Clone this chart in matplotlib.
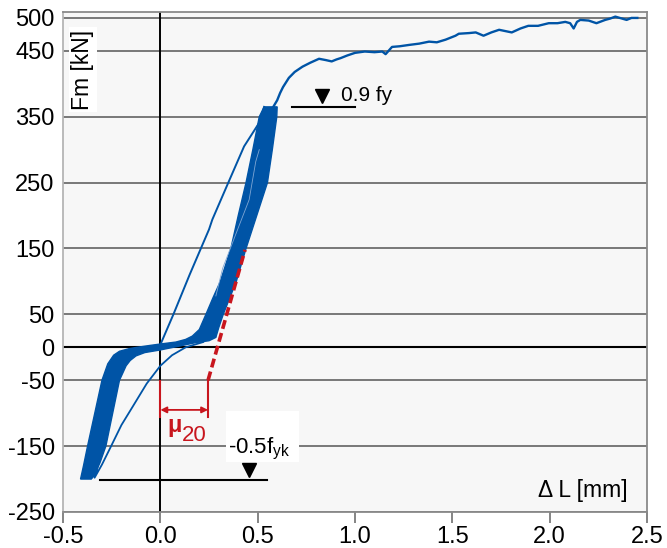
import matplotlib.pyplot as plt
from matplotlib.patches import Rectangle

plt.rcParams['font.family'] = ['Liberation Sans', 'DejaVu Sans']
plt.rcParams['axes.unicode_minus'] = False
plt.rcParams['mathtext.fontset'] = 'custom'
plt.rcParams['mathtext.rm'] = 'Liberation Sans'
plt.rcParams['mathtext.it'] = 'Liberation Sans:italic'
plt.rcParams['mathtext.bf'] = 'Liberation Sans:bold'

# Tick values
x_ticks = [-0.5, 0.0, 0.5, 1.0, 1.5, 2.0, 2.5]
x_labels = ['-0.5', '0.0', '0.5', '1.0', '1.5', '2.0', '2.5']
y_ticks = [-250, -150, -50, 0, 50, 150, 250, 350, 450, 500]
y_labels = ['-250', '-150', '-50', '0', '50', '150', '250', '350', '450', '500']

# First loading (thin line), dL [mm] / Fm [kN]
load_x = [0.0, 0.067, 0.15, 0.25, 0.267, 0.349, 0.43, 0.508, 0.533]
load_y = [4, 50, 110, 179, 194, 250, 305, 341, 365]

# First reversal down to -200 kN and back
unload_x = [0.22, 0.13, 0.06, 0.0, -0.07, -0.14, -0.20, -0.253, -0.30, -0.338, -0.325, -0.30, -0.27, -0.24]
unload_y = [8, 0, -12, -28, -55, -89, -118, -150, -178, -198, -185, -150, -110, -75]

# Cyclic band, upper-left edge (bottom -> top)
band_up_x = [-0.41, -0.395, -0.374, -0.337, -0.30, -0.27, -0.24, -0.21, -0.16, -0.12, -0.05, 0.0,
             0.08, 0.13, 0.164, 0.2, 0.234, 0.27, 0.308, 0.362, 0.40, 0.44, 0.475, 0.508, 0.533]
band_up_y = [-200, -180, -150, -100, -50, -25, -12, -6, -2, 0, 3, 5,
             8, 12, 17, 27, 50, 75, 100, 150, 200, 250, 300, 350, 365]

# Cyclic band, lower-right edge (top -> bottom)
band_lo_x = [0.60, 0.598, 0.575, 0.55, 0.495, 0.44, 0.39, 0.323, 0.30, 0.285, 0.25, 0.18, 0.10, 0.0,
             -0.08, -0.125, -0.155, -0.176, -0.21, -0.245, -0.28, -0.31, -0.34, -0.355]
band_lo_y = [365, 350, 300, 250, 200, 150, 100, 50, 30, 15, 10, 7, 2, -4,
             -8, -13, -20, -28, -50, -100, -150, -175, -195, -200]

# Light gap line inside the band
gap_x = [0.285, 0.32, 0.397, 0.456, 0.49, 0.508]
gap_y = [78, 120, 179, 224, 282, 300]

# Monotonic loading after the cycles
mono_x = [0.58, 0.60, 0.615, 0.63, 0.66, 0.69, 0.73, 0.77, 0.815, 0.85, 0.88, 0.905, 0.926, 0.96, 1.0,
          1.05, 1.10, 1.14, 1.157, 1.175, 1.19, 1.23, 1.277, 1.33, 1.38, 1.42, 1.465, 1.516, 1.533,
          1.585, 1.62, 1.66, 1.70, 1.74, 1.805, 1.85, 1.89, 1.94, 1.995, 2.04, 2.08, 2.105, 2.123,
          2.14, 2.157, 2.20, 2.24, 2.285, 2.31, 2.337, 2.36, 2.395, 2.42, 2.45]
mono_y = [365, 375, 386, 395, 409, 418, 426, 432, 438, 436, 434, 437, 439, 443, 447,
          449, 448, 449, 445, 451, 456, 457, 459, 461, 464, 463, 467, 473, 476,
          477, 478, 473, 478, 482, 478, 484, 488, 488, 492, 492, 494, 492, 484,
          494, 497, 496, 492, 497, 499, 502, 500, 497, 500, 500]

# Slip measure mu20 (red dashed tangent)
tangent_x = [0.245, 0.435]
tangent_y = [-50, 148]
mu_x = [0.0, 0.245]
mu_y = [-51, -106]
mu_arrow_y = -95

# Reference levels
fy_line_x = [0.677, 1.0]
fy_level = 365
fy_marker = (0.83, 381)
fyk_line_x = [-0.308, 0.547]
fyk_level = -201
fyk_marker = (0.456, -187)

blue = '#0054a6'
red = '#c8161e'

fig = plt.figure(figsize=(6.67, 5.48), dpi=100)
ax = fig.add_axes([0.0945, 0.0657, 0.8756, 0.9124])
ax.set_facecolor('#f7f7f7')

# grid
for t in y_ticks:
    if t == 0:
        ax.axhline(t, color='black', lw=1.5, zorder=1)
    else:
        ax.axhline(t, color='#6e6e6e', lw=1.3, zorder=1)
ax.axvline(0, color='black', lw=1.4, zorder=1)

# hysteresis band
poly_x = band_up_x + band_lo_x
poly_y = band_up_y + band_lo_y
ax.fill(poly_x, poly_y, color=blue, lw=1.0, ec=blue, zorder=3)
ax.plot(gap_x, gap_y, color='#7fa6d4', lw=0.6, zorder=4)
ax.plot(load_x, load_y, color=blue, lw=1.4, zorder=3)
ax.plot(unload_x, unload_y, color=blue, lw=1.3, zorder=3)
ax.plot(mono_x, mono_y, color=blue, lw=1.7, zorder=3)

# mu20 annotation
ax.plot(tangent_x, tangent_y, color=red, lw=2.6, dashes=(2.5, 1.2), zorder=5)
for xv in mu_x:
    ax.plot([xv, xv], mu_y, color=red, lw=1.5, zorder=5)
ax.annotate('', xy=(mu_x[0], mu_arrow_y), xytext=(mu_x[1], mu_arrow_y),
            arrowprops=dict(arrowstyle='<|-|>', color=red, lw=1.3, mutation_scale=9,
                            shrinkA=0, shrinkB=0), zorder=5)
ax.text(0.035, -129, 'μ', color=red, fontsize=17, fontweight='bold', ha='left', va='baseline', zorder=6)
ax.text(0.11, -142, '20', color=red, fontsize=16, ha='left', va='baseline', zorder=6)

# 0.9 fy level
ax.plot(fy_line_x, [fy_level, fy_level], color='black', lw=1.5, zorder=5)
ax.plot(*fy_marker, marker='v', color='black', ms=10, zorder=5)
ax.text(0.93, 382, '0.9 fy', fontsize=15, ha='left', va='center', zorder=6)

# -0.5 fyk level
ax.add_patch(Rectangle((0.338, -174), 0.375, 77, color='white', lw=0, zorder=2))
ax.plot(fyk_line_x, [fyk_level, fyk_level], color='black', lw=1.5, zorder=5)
ax.plot(*fyk_marker, marker='v', color='black', ms=10, zorder=5)
ax.text(0.51, -155, '-0.5f$_\\mathrm{yk}$', fontsize=16, ha='center', va='center', zorder=6)

# axis labels inside the plot
ax.text(0.034, 0.885, 'Fm [kN]', transform=ax.transAxes, rotation=90, fontsize=16.5,
        ha='center', va='center', zorder=6,
        bbox=dict(facecolor='white', edgecolor='none', pad=2))
ax.text(0.89, 0.042, 'Δ L [mm]', transform=ax.transAxes, fontsize=16.5,
        ha='center', va='center', zorder=6)

ax.set_xlim(-0.5, 2.5)
ax.set_ylim(-250, 509)
ax.set_xticks(x_ticks)
ax.set_xticklabels(x_labels, fontsize=17)
ax.set_yticks(y_ticks)
ax.set_yticklabels(y_labels, fontsize=17)
ax.tick_params(axis='x', direction='out', length=8, width=1.2, color='#707070', pad=2)
ax.tick_params(axis='y', length=0, pad=6)
for side in ['top', 'right', 'bottom']:
    ax.spines[side].set_color('#8a8a8a')
    ax.spines[side].set_linewidth(1.3)
ax.spines['left'].set_color('#b5b5b5')
ax.spines['left'].set_linewidth(1.3)

plt.savefig('out.png', dpi=100)
